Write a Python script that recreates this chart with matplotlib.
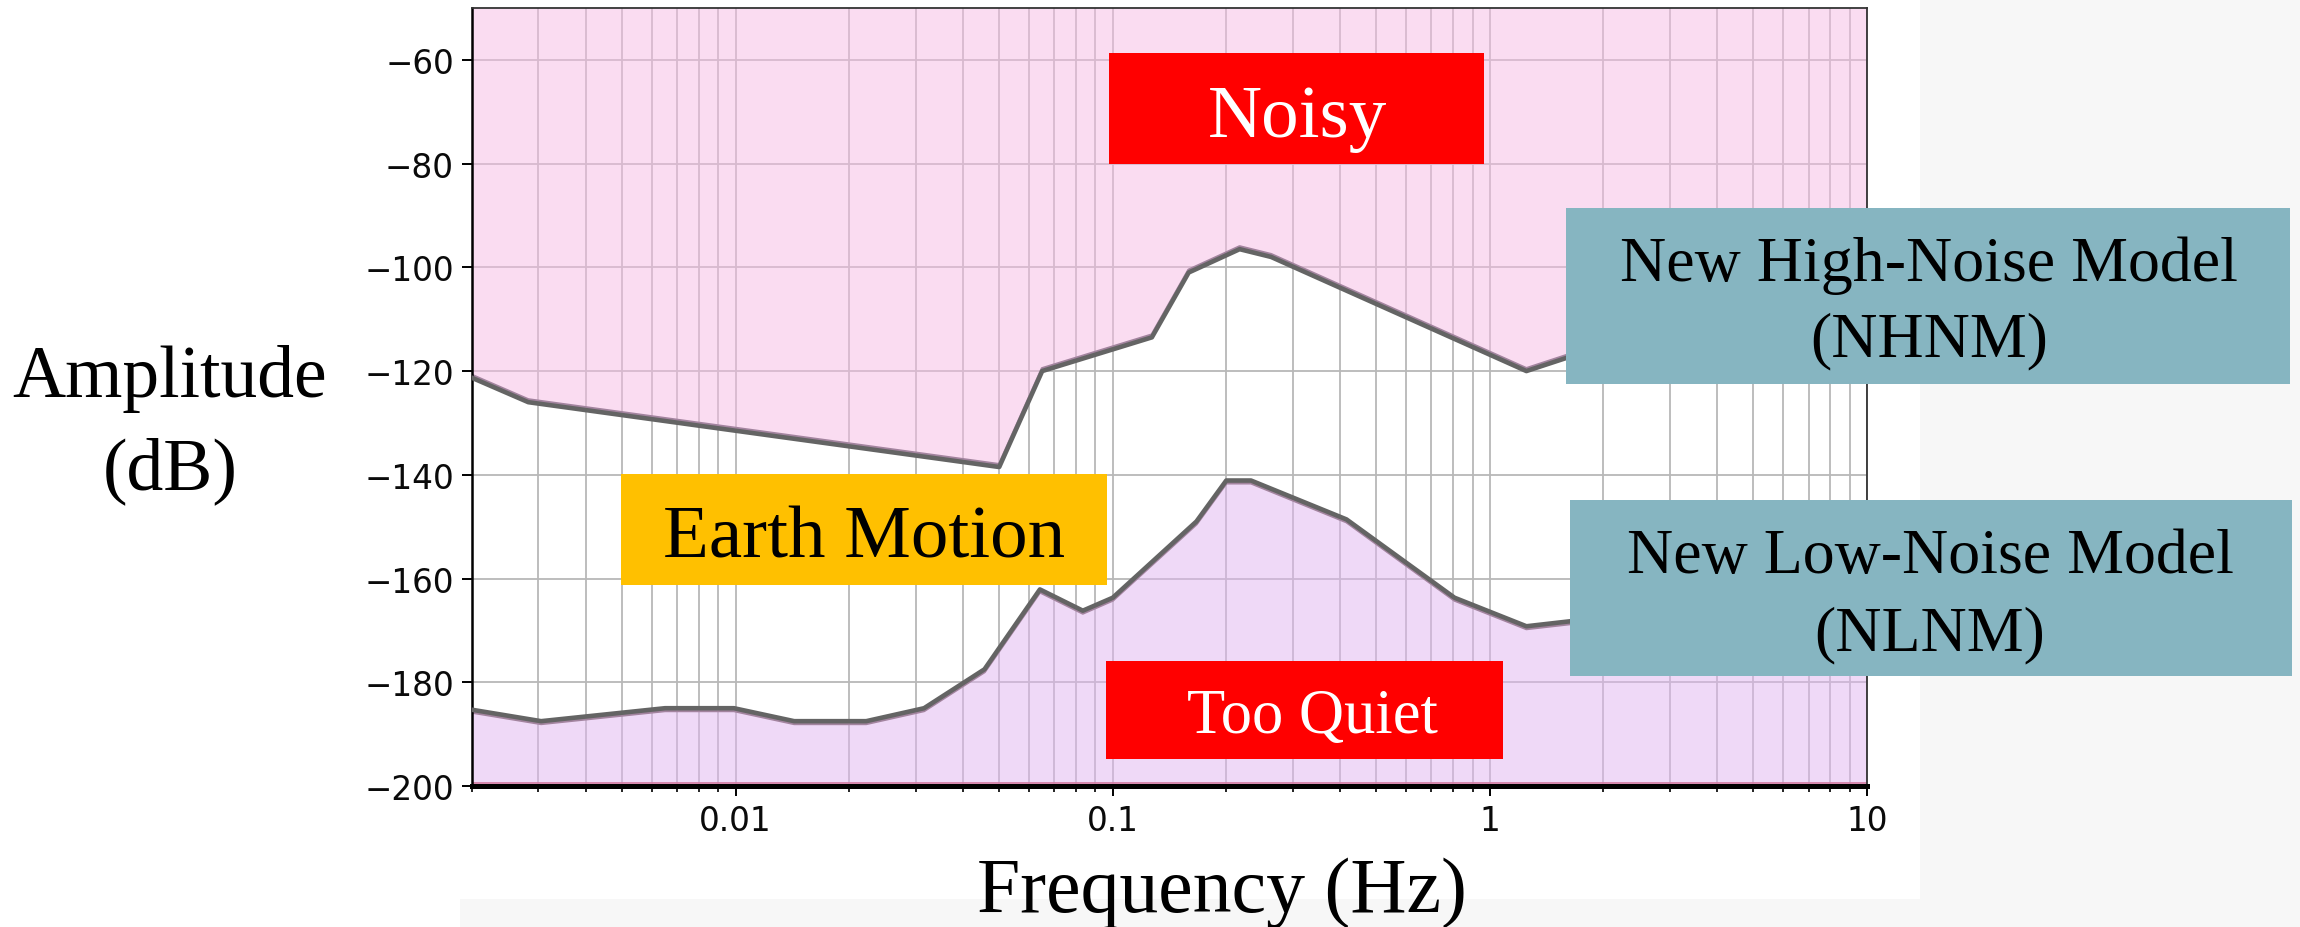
import numpy as np
import matplotlib.pyplot as plt
from matplotlib.patches import Rectangle
from matplotlib.ticker import LogLocator, NullFormatter
from matplotlib.transforms import offset_copy

# Peterson noise models: breakpoints as frequency (Hz) and amplitude (dB)
nhnm_freq = [0.002, 0.00282, 0.05, 0.065, 0.127, 0.159, 0.217, 0.263,
             1.25, 3.125, 4.545, 10.0]
nhnm_db = [-121.3, -126.0, -138.5, -120.0, -113.5, -101.0, -96.5, -98.0,
           -120.0, -110.5, -97.4, -91.5]

nlnm_freq = [0.002, 0.00305, 0.0065, 0.0099, 0.0143, 0.0222, 0.0316, 0.0457,
             0.0641, 0.0833, 0.1, 0.1667, 0.2, 0.2326, 0.4167, 0.806,
             1.25, 2.5, 5.88, 10.0]
nlnm_db = [-185.3, -187.5, -185.0, -185.0, -187.5, -187.5, -185.0, -177.5,
           -162.1, -166.2, -163.7, -149.0, -141.1, -141.1, -148.6, -163.7,
           -169.2, -166.7, -166.7, -168.0]

x_ticks = [0.01, 0.1, 1, 10]
x_tick_labels = ['0.01', '0.1', '1', '10']
y_ticks = [-60, -80, -100, -120, -140, -160, -180, -200]
y_min, y_max = -200, -50

W, H = 2300, 928
fig = plt.figure(figsize=(W / 100, H / 100), dpi=100, facecolor='#f7f7f7')


def fx(x):
    return x / W


def fy(y):
    return 1 - y / H


serif = 'Liberation Serif'

# white slide area behind the plot
fig.add_artist(Rectangle((0, fy(900)), fx(1920), 900 / H, transform=fig.transFigure,
                         color='white', lw=0, zorder=-2))
fig.add_artist(Rectangle((0, 0), fx(460), 28 / H, transform=fig.transFigure,
                         color='white', lw=0, zorder=-2))

ax = fig.add_axes([fx(472), fy(787), fx(1867) - fx(472), (787 - 9) / H])
ax.set_facecolor('white')
ax.set_xscale('log')
ax.set_xlim(nhnm_freq[0], nhnm_freq[-1])
ax.set_ylim(y_min, y_max)
ax.set_axisbelow(True)

# noisy region above NHNM, too-quiet region below NLNM
ax.fill_between(nhnm_freq, nhnm_db, y_max, color='#F7BBE5', alpha=0.5, lw=0, zorder=1)
ax.fill_between(nlnm_freq, nlnm_db, y_min, color='#E1B5F1', alpha=0.5, lw=0, zorder=1)

up = offset_copy(ax.transData, fig=fig, x=0, y=2.5, units='dots')
down = offset_copy(ax.transData, fig=fig, x=0, y=-2.5, units='dots')
ax.plot(nhnm_freq, nhnm_db, color='#a3849f', lw=2.2, transform=up, zorder=2)
ax.plot(nhnm_freq, nhnm_db, color='#646464', lw=3.3, zorder=3)
ax.plot(nlnm_freq, nlnm_db, color='#a3849f', lw=2.2, transform=down, zorder=2)
ax.plot(nlnm_freq, nlnm_db, color='#646464', lw=3.3, zorder=3)
ax.axhline(-199.4, color='#d27aa0', lw=1.2, zorder=2.5)

ax.set_xticks(x_ticks, x_tick_labels)
ax.xaxis.set_minor_locator(LogLocator(base=10, subs=np.arange(2, 10)))
ax.xaxis.set_minor_formatter(NullFormatter())
ax.set_yticks(y_ticks)

ax.grid(True, which='both', axis='x', color='#b8b8b8', lw=1.3)
ax.grid(True, which='major', axis='y', color='#b8b8b8', lw=1.3)

ax.tick_params(which='major', length=7, width=1.4, labelsize=23.5, pad=6,
               color='black', labelcolor='#0a0a0a')
ax.tick_params(which='minor', length=4.5, width=1.2, color='black')

ax.spines['bottom'].set_linewidth(3.6)
ax.spines['bottom'].set_color('black')
ax.spines['left'].set_linewidth(1.8)
ax.spines['left'].set_color('black')
for side in ('top', 'right'):
    ax.spines[side].set_linewidth(1.3)
    ax.spines[side].set_color('#333333')

# axis titles
fig.text(fx(170), fy(397), 'Amplitude', family=serif, fontsize=53,
         ha='center', va='baseline')
fig.text(fx(170), fy(489), '(dB)', family=serif, fontsize=53,
         ha='center', va='baseline')
fig.text(fx(1222), fy(912), 'Frequency (Hz)', family=serif, fontsize=56,
         ha='center', va='baseline')


def label_box(x0, y0, x1, y1, color, lines, cx, baselines, size, tcolor):
    fig.add_artist(Rectangle((fx(x0), fy(y1)), (x1 - x0) / W, (y1 - y0) / H,
                             transform=fig.transFigure, color=color, lw=0, zorder=5))
    for line, b in zip(lines, baselines):
        fig.text(fx(cx), fy(b), line, family=serif, fontsize=size, color=tcolor,
                 ha='center', va='baseline', zorder=6)


label_box(1109, 54, 1484, 165, '#FF0000', ['Noisy'], 1297, [137], 54, 'white')
label_box(621, 475, 1107, 586, '#FFC000', ['Earth Motion'], 864, [557], 54, 'black')
label_box(1106, 662, 1503, 760, '#FF0000', ['Too Quiet'], 1312, [733], 45, 'white')
label_box(1566, 209, 2290, 385, '#86B5C1',
          ['New High-Noise Model', '(NHNM)'], 1929, [281, 356], 46, 'black')
label_box(1570, 501, 2292, 677, '#86B5C1',
          ['New Low-Noise Model', '(NLNM)'], 1930, [573, 650], 46, 'black')

fig.savefig('out.png', dpi=100, facecolor=fig.get_facecolor())
